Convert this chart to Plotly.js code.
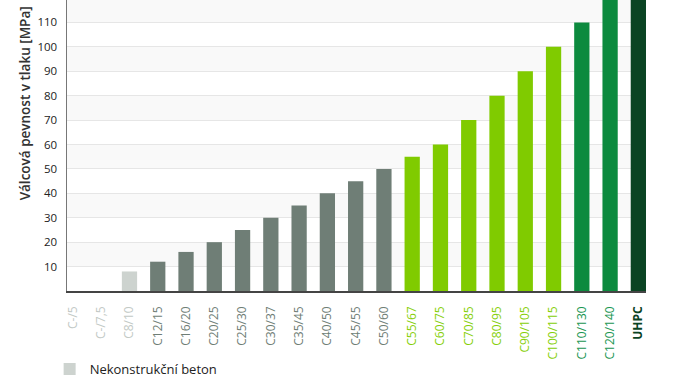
<!DOCTYPE html>
<html>
<head>
<meta charset="utf-8">
<script src="https://cdn.plot.ly/plotly-3.0.1.min.js"></script>
<style>
html,body{margin:0;padding:0;background:#fff;overflow:hidden;}
#chart{width:674px;height:384px;margin-top:-4px;}
</style>
</head>
<body>
<div id="chart"></div>
<script>
// ---- data ----
const categories = ["C-/5","C-/7,5","C8/10","C12/15","C16/20","C20/25","C25/30","C30/37","C35/45","C40/50","C45/55","C50/60","C55/67","C60/75","C70/85","C80/95","C90/105","C100/115","C110/130","C120/140","UHPC"];
const strength = [null, null, 8, 12, 16, 20, 25, 30, 35, 40, 45, 50, 55, 60, 70, 80, 90, 100, 110, 120, 150];
const group = [0,0,0,1,1,1,1,1,1,1,1,1,2,2,2,2,2,2,3,3,4];
const groupNames = ["Nekonstrukční beton","Obyčejný beton","Vysokopevnostní beton","Velmi vysokopevnostní beton","UHPC"];
const groupBarColors = ["#cdd3cf","#6f7e76","#80cb00","#0c8a3e","#0b4423"];
const groupLabelColors = ["#c2c9c5","#6f7e76","#86cf0a","#1a9652","#0b4423"];
const yTicks = [10,20,30,40,50,60,70,80,90,100,110,120];
const yTitle = "Válcová pevnost v tlaku [MPa]";

// ---- traces ----
const traces = groupNames.map((name, g) => {
  const xs = [], ys = [];
  categories.forEach((c, i) => { if (group[i] === g) { xs.push(c); ys.push(strength[i]); } });
  return {
    type: "bar", x: xs, y: ys, name: name,
    marker: {color: groupBarColors[g], line: {width: 0}},
    width: 0.54,
    showlegend: g === 0,
    hoverinfo: "x+y"
  };
});

const tickText = categories.map((c, i) => {
  const t = group[i] === 4 ? "<b>" + c + "</b>" : c;
  return '<span style="color:' + groupLabelColors[group[i]] + '">' + t + '</span>';
});

// alternating background bands
const bands = yTicks.filter(v => (v / 10) % 2 === 1).map(v => ({
  type: "rect", xref: "paper", x0: 0, x1: 1, yref: "y", y0: v, y1: v + 10,
  fillcolor: "#f9f9f9", line: {width: 0}, layer: "below"
}));

const layout = {
  width: 674, height: 384,
  margin: {l: 67, r: 28, t: 2, b: 89, autoexpand: false},
  paper_bgcolor: "#fff", plot_bgcolor: "rgba(0,0,0,0)",
  font: {family: "Open Sans, sans-serif", color: "#333"},
  barmode: "overlay",
  showlegend: true,
  legend: {x: -0.030, xanchor: "left", y: -0.266, yanchor: "middle",
           font: {size: 13, color: "#222"}, bgcolor: "rgba(0,0,0,0)"},
  xaxis: {
    type: "category", categoryorder: "array", categoryarray: categories,
    range: [-0.21, 20.27], tickmode: "array", tickvals: categories, ticktext: tickText,
    tickangle: -90, tickfont: {size: 12}, ticks: "", ticklabelstandoff: 9,
    showline: true, linecolor: "#444", linewidth: 1.5, showgrid: false, zeroline: false,
    automargin: false
  },
  yaxis: {
    range: [0, 120], tickmode: "array", tickvals: yTicks,
    tickfont: {size: 11.5, color: "#222", weight: 500}, ticks: "", ticklabelstandoff: 6,
    showline: true, linecolor: "#777", linewidth: 1.5,
    showgrid: true, gridcolor: "#e6e6e6", gridwidth: 1, zeroline: false,
    automargin: false
  },
  shapes: bands,
  annotations: [{
    text: yTitle, xref: "paper", yref: "paper", x: -0.071, y: 0.64,
    xanchor: "center", yanchor: "middle", textangle: -90, showarrow: false,
    font: {size: 13.5, color: "#333", weight: 600}
  }]
};

Plotly.newPlot("chart", traces, layout, {displayModeBar: false, staticPlot: true});
</script>
</body>
</html>
